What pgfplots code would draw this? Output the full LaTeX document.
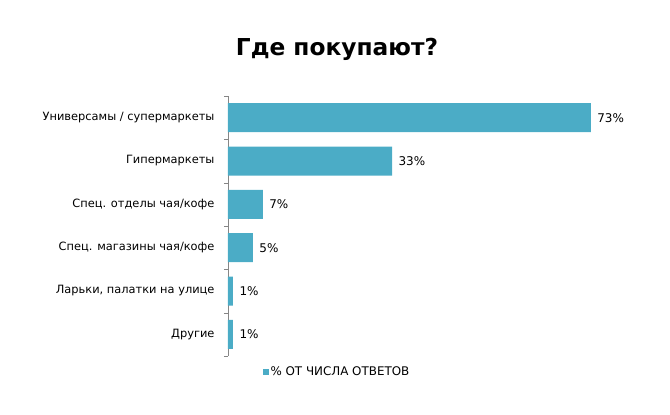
\documentclass[border=0pt]{standalone}
\usepackage{pgfplots}
\pgfplotsset{compat=1.18}
\usepackage{fontspec}
\setmainfont{DejaVu Sans}
\definecolor{barc}{RGB}{75,172,198}
\definecolor{axc}{RGB}{134,134,134}
\begin{document}
\begin{tikzpicture}
\useasboundingbox (0,0) rectangle (670pt,415pt);
\node[font=\fontsize{23.3}{26}\selectfont\bfseries] at (337pt,366pt) {Где покупают?};
\begin{axis}[
  at={(228pt,59pt)}, anchor=south west,
  scale only axis,
  width=397.6pt, height=260pt,
  xmin=0, xmax=80,
  ymin=-0.5, ymax=5.5,
  y dir=reverse,
  hide x axis,
  axis y line*=left,
  y axis line style={axc},
  ytick={0,1,2,3,4,5},
  yticklabels={Универсамы / супермаркеты, Гипермаркеты, Спец. отделы чая/кофе, Спец. магазины чая/кофе, {Ларьки, палатки на улице}, Другие},
  major tick length=0pt,
  extra y ticks={-0.5,0.5,1.5,2.5,3.5,4.5,5.5},
  extra y tick labels={},
  extra y tick style={major tick length=4pt, tick style={axc}, tick align=outside},
  yticklabel style={font=\fontsize{11.4}{13}\selectfont, xshift=-10pt},
  /pgf/number format/assume math mode=true,
  xbar, bar width=29pt,
  nodes near coords={\pgfmathprintnumber{\pgfplotspointmeta}\%},
  nodes near coords style={font=\fontsize{12}{14}\selectfont, black, xshift=3pt},
  legend style={at={(0.274,-0.062)}, anchor=center, draw=none, font=\fontsize{11.9}{14}\selectfont, inner sep=0pt},
  legend image code/.code={\fill[barc] (0pt,-3pt) rectangle (6pt,3pt);},
  legend cell align=left,
]
\addplot[fill=barc, draw=none] coordinates {(73,0) (33,1) (7,2) (5,3) (1,4) (1,5)};
\addlegendentry{\% ОТ ЧИСЛА ОТВЕТОВ}
\end{axis}
\end{tikzpicture}
\end{document}
